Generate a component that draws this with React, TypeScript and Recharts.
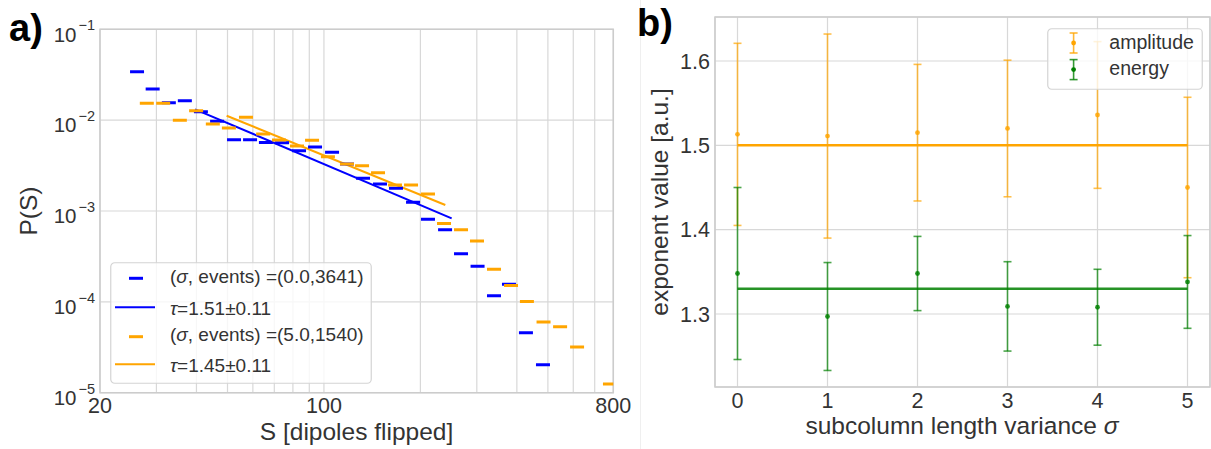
import React from 'react';
import {
  ComposedChart,
  Scatter,
  Line,
  XAxis,
  YAxis,
  CartesianGrid,
  ReferenceArea,
  ReferenceLine,
  ErrorBar,
  Legend,
} from 'recharts';

// a) avalanche size distribution P(S), log-log
const blueS = [26.1, 29.2, 32.8, 36.8, 41.3, 46.4, 52.4, 58.8, 65.9, 74.0, 83.6, 93.8, 106, 118, 132.4, 149.6, 167.8, 189.7, 211.2, 238.8, 267.8, 301.6, 339.4, 378, 427, 482.6];
const blueP = [0.0341, 0.022, 0.01556, 0.01637, 0.0124, 0.00971, 0.00609, 0.00609, 0.00568, 0.00565, 0.00461, 0.00506, 0.00443, 0.00329, 0.00229, 0.00198, 0.00178, 0.001247, 0.00081, 0.000621, 0.000339, 0.000246, 0.000117, 0.000156, 0.0000457, 0.0000203];
const orangeS = [28.0, 31.5, 35.5, 39.9, 45.0, 50.5, 57.1, 64.6, 72.4, 82.4, 91.8, 102.9, 118, 131.5, 147.5, 166.6, 187, 211.2, 237, 267.8, 300.4, 339.4, 383.6, 430, 484.6, 545.8, 616.6, 781];
const orangeP = [0.01532, 0.01532, 0.00996, 0.01271, 0.00907, 0.00819, 0.01075, 0.00704, 0.00605, 0.00519, 0.006, 0.00396, 0.00329, 0.00315, 0.00264, 0.00193, 0.00193, 0.001538, 0.000729, 0.000621, 0.000467, 0.000228, 0.000151, 0.000101, 0.00006, 0.0000533, 0.0000318, 0.0000125];
// power-law fits (end points of the fitted range)
const blueFitS = [39.6, 250.4];
const blueFitP = [0.01316, 0.000831];
const orangeFitS = [49.7, 239.2];
const orangeFitP = [0.01119, 0.001164];
const xGridA = [20, 30, 40, 50, 60, 70, 80, 90, 100, 200, 300, 400, 500, 600, 700, 800];
const xLabelsA = [20, 100, 800];
const yTicksA = [1e-5, 1e-4, 1e-3, 1e-2, 1e-1];

// b) fitted exponents vs subcolumn length variance
const sigma = [0, 1, 2, 3, 4, 5];
const ampMean = [1.513, 1.511, 1.515, 1.52, 1.536, 1.45];
const ampErr = [0.108, 0.121, 0.081, 0.081, 0.087, 0.107];
const enMean = [1.348, 1.297, 1.348, 1.309, 1.308, 1.338];
const enErr = [0.102, 0.064, 0.044, 0.053, 0.045, 0.055];
const ampFit = 1.5;
const enFit = 1.33;
const yTicksB = [1.3, 1.4, 1.5, 1.6];

const FONT = '"Liberation Sans", Arial, Helvetica, sans-serif';
const TXT = '#333333';
const GRID = '#d8d8d8';
const FRAME = '#cccccc';
const BLUE = '#0000ff';
const ORANGE = '#ffa500';
const GREEN = '#008000';
const TICK = 21.5;
const LABEL = 24.5;

const blueData = blueS.map((s, i) => ({ s, p: blueP[i] }));
const orangeData = orangeS.map((s, i) => ({ s, p: orangeP[i] }));
const blueFit = blueFitS.map((s, i) => ({ s, p: blueFitP[i] }));
const orangeFit = orangeFitS.map((s, i) => ({ s, p: orangeFitP[i] }));
const dataB = sigma.map((x, i) => ({ x, amp: ampMean[i], ampErr: ampErr[i], en: enMean[i], enErr: enErr[i] }));

const dash = (color: string) => (props: any) => {
  const { cx, cy } = props;
  if (cx == null || cy == null) return <g />;
  return <line x1={cx - 7} x2={cx + 7} y1={cy} y2={cy} stroke={color} strokeWidth={3} />;
};

const dot = (color: string) => (props: any) => {
  const { cx, cy } = props;
  if (cx == null || cy == null) return <g />;
  return <circle cx={cx} cy={cy} r={2.4} fill={color} fillOpacity={0.85} />;
};

const XTickA = ({ x, y, payload }: any) =>
  xLabelsA.includes(payload.value) ? (
    <text x={x} y={y + 19.8} textAnchor="middle" fontSize={TICK} fontFamily={FONT} fill={TXT}>
      {payload.value}
    </text>
  ) : (
    <g />
  );

const YTickA = ({ x, y, payload }: any) => {
  const exp = Math.round(Math.log10(payload.value));
  return (
    <text x={x - 5} y={y + 12.3} textAnchor="end" fontFamily={FONT} fill={TXT}>
      <tspan fontSize={20.5}>10</tspan>
      <tspan fontSize={14.5} dx={2} dy={-11.5}>{'\u2212' + Math.abs(exp)}</tspan>
    </text>
  );
};

const XTickB = ({ x, y, payload }: any) => (
  <text x={x} y={y + 21.2} textAnchor="middle" fontSize={TICK} fontFamily={FONT} fill={TXT}>
    {payload.value}
  </text>
);

const YTickB = ({ x, y, payload }: any) => (
  <text x={x - 5} y={y + 7.6} textAnchor="end" fontSize={TICK} fontFamily={FONT} fill={TXT}>
    {payload.value.toFixed(1)}
  </text>
);

const legendRowsA = [
  { color: BLUE, kind: 'marker', label: ['(', 'σ', ', events) =(0.0,3641)'] },
  { color: BLUE, kind: 'line', label: ['', 'τ', '=1.51±0.11'] },
  { color: ORANGE, kind: 'marker', label: ['(', 'σ', ', events) =(5.0,1540)'] },
  { color: ORANGE, kind: 'line', label: ['', 'τ', '=1.45±0.11'] },
];

const LegendA = () => (
  <svg width={262} height={122} style={{ display: 'block' }}>
    <rect x={0.75} y={0.75} width={260.5} height={120.5} rx={4} fill="#ffffff" fillOpacity={0.8} stroke="#d4d4d4" strokeWidth={1.2} />
    {legendRowsA.map((r, i) => {
      const cy = [16.3, 45.3, 74.7, 102.3][i];
      return (
        <g key={i}>
          {r.kind === 'marker' ? (
            <line x1={19} x2={33} y1={cy} y2={cy} stroke={r.color} strokeWidth={3} />
          ) : (
            <line x1={5} x2={45} y1={cy} y2={cy} stroke={r.color} strokeWidth={2} />
          )}
          <text x={60} y={cy + (r.kind === 'marker' ? 4.6 : 7.2)} fontSize={19} fontFamily={FONT} fill={TXT}>
            {r.label[0]}
            <tspan fontStyle="italic">{r.label[1]}</tspan>
            {r.label[2]}
          </text>
        </g>
      );
    })}
  </svg>
);

const legendRowsB = [
  { color: ORANGE, label: 'amplitude' },
  { color: GREEN, label: 'energy' },
];

const LegendB = () => (
  <svg width={156} height={62} style={{ display: 'block' }}>
    <rect x={0.75} y={0.75} width={154.5} height={60.5} rx={4} fill="#ffffff" fillOpacity={0.8} stroke="#d4d4d4" strokeWidth={1.2} />
    {legendRowsB.map((r, i) => {
      const cy = [15, 41.6][i];
      return (
        <g key={i} stroke={r.color} strokeOpacity={0.8} strokeWidth={1.6}>
          <line x1={26.6} x2={26.6} y1={cy - 10} y2={cy + 10} />
          <line x1={22.6} x2={30.6} y1={cy - 10} y2={cy - 10} />
          <line x1={22.6} x2={30.6} y1={cy + 10} y2={cy + 10} />
          <circle cx={26.6} cy={cy} r={2.4} fill={r.color} stroke="none" />
          <text x={62.3} y={cy + 5.5} fontSize={19.5} fontFamily={FONT} fill={TXT} stroke="none">
            {r.label}
          </text>
        </g>
      );
    })}
  </svg>
);

export default function App() {
  return (
    <div style={{ position: 'absolute', left: 0, top: 0, width: 1211, height: 449, background: '#ffffff' }}>
      <div style={{ position: 'absolute', left: 0, top: 0 }}>
        <ComposedChart width={640} height={449} margin={{ top: 29.3, right: 26.7, bottom: 0, left: 0 }}>
          <CartesianGrid stroke={GRID} strokeWidth={1.2} />
          <XAxis
            dataKey="s"
            type="number"
            scale="log"
            domain={[20, 800]}
            ticks={xGridA}
            interval={0}
            allowDataOverflow
            height={56.3}
            axisLine={false}
            tickLine={false}
            tickSize={0}
            tickMargin={0}
            tick={<XTickA />}
          />
          <YAxis
            dataKey="p"
            type="number"
            scale="log"
            domain={[1e-5, 1e-1]}
            ticks={yTicksA}
            interval={0}
            allowDataOverflow
            width={100}
            axisLine={false}
            tickLine={false}
            tickSize={0}
            tickMargin={0}
            tick={<YTickA />}
          />
          <ReferenceArea x1={20} x2={800} y1={1e-5} y2={1e-1} fill="none" stroke={FRAME} strokeWidth={1.5} ifOverflow="visible" />
          <Scatter data={blueData} dataKey="p" shape={dash(BLUE)} isAnimationActive={false} />
          <Line data={blueFit} dataKey="p" type="linear" stroke={BLUE} strokeWidth={2} dot={false} activeDot={false} isAnimationActive={false} />
          <Scatter data={orangeData} dataKey="p" shape={dash(ORANGE)} isAnimationActive={false} />
          <Line data={orangeFit} dataKey="p" type="linear" stroke={ORANGE} strokeWidth={2} dot={false} activeDot={false} isAnimationActive={false} />
          <Legend
            layout="vertical"
            align="center"
            verticalAlign="middle"
            wrapperStyle={{ left: 110, top: 262, width: 262, height: 122 }}
            content={() => <LegendA />}
          />
        </ComposedChart>
      </div>

      <div style={{ position: 'absolute', left: 640, top: 0 }}>
        <ComposedChart width={571} height={449} margin={{ top: 17, right: 1, bottom: 0, left: 0 }}>
          <CartesianGrid stroke={GRID} strokeWidth={1.2} />
          <XAxis
            dataKey="x"
            type="number"
            domain={[-0.25, 5.25]}
            ticks={sigma}
            interval={0}
            allowDataOverflow
            height={62}
            axisLine={false}
            tickLine={false}
            tickSize={0}
            tickMargin={0}
            tick={<XTickB />}
          />
          <YAxis
            type="number"
            domain={[1.2134, 1.6522]}
            ticks={yTicksB}
            interval={0}
            allowDataOverflow
            width={75}
            axisLine={false}
            tickLine={false}
            tickSize={0}
            tickMargin={0}
            tick={<YTickB />}
          />
          <ReferenceArea x1={-0.25} x2={5.25} y1={1.2134} y2={1.6522} fill="none" stroke={FRAME} strokeWidth={1.5} ifOverflow="visible" />
          <ReferenceLine segment={[{ x: 0, y: ampFit }, { x: 5, y: ampFit }]} stroke={ORANGE} strokeWidth={2.5} />
          <ReferenceLine segment={[{ x: 0, y: enFit }, { x: 5, y: enFit }]} stroke={GREEN} strokeOpacity={0.85} strokeWidth={2.5} />
          <Scatter data={dataB} dataKey="amp" fill={ORANGE} shape={dot(ORANGE)} isAnimationActive={false}>
            <ErrorBar dataKey="ampErr" direction="y" width={4} stroke={ORANGE} strokeOpacity={0.7} strokeWidth={1.6} isAnimationActive={false} />
          </Scatter>
          <Scatter data={dataB} dataKey="en" fill={GREEN} shape={dot(GREEN)} isAnimationActive={false}>
            <ErrorBar dataKey="enErr" direction="y" width={4} stroke={GREEN} strokeOpacity={0.7} strokeWidth={1.6} isAnimationActive={false} />
          </Scatter>
          <Legend
            layout="vertical"
            align="center"
            verticalAlign="middle"
            wrapperStyle={{ left: 406.7, top: 27.7, width: 156, height: 62 }}
            content={() => <LegendB />}
          />
        </ComposedChart>
      </div>

      <svg width={1211} height={449} style={{ position: 'absolute', left: 0, top: 0, pointerEvents: 'none' }}>
        <line x1={640.5} x2={640.5} y1={0} y2={449} stroke="#efefef" strokeWidth={1} />
        <text x={9} y={41} fontSize={38} fontWeight="bold" fontFamily={FONT} fill="#000">a)</text>
        <text x={637} y={36} fontSize={38} fontWeight="bold" fontFamily={FONT} fill="#000">b)</text>
        <text x={36.5} y={211} transform="rotate(-90, 36.5, 211)" textAnchor="middle" fontSize={LABEL} fontFamily={FONT} fill={TXT}>
          P(S)
        </text>
        <text x={356.5} y={440} textAnchor="middle" fontSize={LABEL} fontFamily={FONT} fill={TXT}>
          S [dipoles flipped]
        </text>
        <text x={668} y={202} transform="rotate(-90, 668, 202)" textAnchor="middle" fontSize={LABEL} fontFamily={FONT} fill={TXT}>
          exponent value [a.u.]
        </text>
        <text x={962} y={434} textAnchor="middle" fontSize={LABEL} fontFamily={FONT} fill={TXT}>
          subcolumn length variance <tspan fontStyle="italic">σ</tspan>
        </text>
      </svg>
    </div>
  );
}
